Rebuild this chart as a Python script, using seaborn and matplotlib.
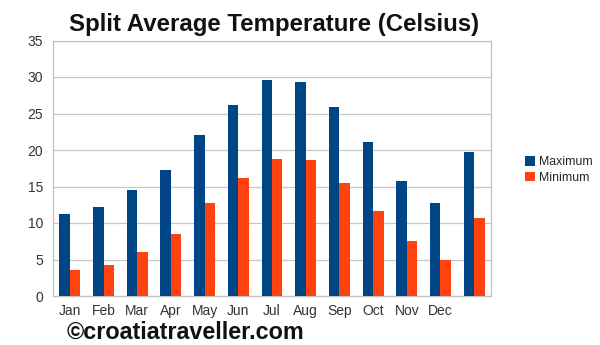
import numpy as np
import pandas as pd
import matplotlib
matplotlib.use("Agg")
import matplotlib.pyplot as plt
import seaborn as sns
from matplotlib.patches import Patch

categories = ["Jan", "Feb", "Mar", "Apr", "May", "Jun", "Jul", "Aug", "Sep", "Oct", "Nov", "Dec", "Year"]
tick_labels = ["Jan", "Feb", "Mar", "Apr", "May", "Jun", "Jul", "Aug", "Sep", "Oct", "Nov", "Dec", ""]
maximum = [11.3, 12.2, 14.5, 17.2, 22.1, 26.1, 29.6, 29.3, 25.9, 21.1, 15.7, 12.8, 19.7]
minimum = [3.6, 4.3, 6.0, 8.5, 12.8, 16.2, 18.7, 18.6, 15.5, 11.7, 7.6, 4.9, 10.7]
series = ["Maximum", "Minimum"]
colors = ["#004586", "#ff420e"]

df = pd.DataFrame({
    "Month": categories * 2,
    "Series": [series[0]] * len(categories) + [series[1]] * len(categories),
    "Temp": maximum + minimum,
})

sns.set_theme(style="white")
plt.rcParams["font.family"] = ["Liberation Sans", "DejaVu Sans"]

fig = plt.figure(figsize=(6.0, 3.45), dpi=100)
ax = fig.add_axes([53 / 600, 1 - 296 / 345, (491 - 53) / 600, (296 - 40.5) / 345])

sns.barplot(data=df, x="Month", y="Temp", hue="Series", order=categories,
            hue_order=series, palette=colors, width=0.62, saturation=1,
            edgecolor="none", ax=ax, legend=False, zorder=3)

ax.set_ylim(0, 35)
ax.set_xlim(-0.5, len(categories) - 0.5)
ax.set_yticks(np.arange(0, 36, 5))
ax.yaxis.grid(True, color="#c8c8c8", linewidth=0.9, zorder=0)
ax.set_axisbelow(True)
ax.set_xlabel("")
ax.set_ylabel("")
ax.set_xticks(range(len(categories)))
ax.set_xticklabels(tick_labels)
ax.set_xticks(np.arange(-0.5, len(categories), 1), minor=True)
ax.tick_params(axis="x", which="major", length=0, pad=6, labelsize=10, labelcolor="#333333")
ax.tick_params(axis="x", which="minor", length=5, color="#b0b0b0", width=0.9)
ax.tick_params(axis="y", length=5, color="#b0b0b0", width=0.9, labelsize=10, labelcolor="#333333", pad=2)
for s in ["left", "right", "top", "bottom"]:
    ax.spines[s].set_color("#c0c0c0")
    ax.spines[s].set_linewidth(0.9)

fig.text(274 / 600, 1 - 25 / 345, "Split Average Temperature (Celsius)",
         ha="center", va="center", fontsize=17.3, fontweight="bold", color="#111111")

handles = [Patch(facecolor=c, edgecolor="none") for c in colors]
fig.legend(handles, series, loc="center left", bbox_to_anchor=(519 / 600, 1 - 170 / 345),
           frameon=False, fontsize=8.8, handlelength=0.8, handleheight=0.8,
           handletextpad=0.3, labelspacing=0.3, borderpad=0)

fig.text(67 / 600, 1 - 332 / 345, "©croatiatraveller.com", ha="left", va="center",
         fontsize=16.8, fontweight="bold", color="#111111")

fig.savefig("out.png", dpi=100)
